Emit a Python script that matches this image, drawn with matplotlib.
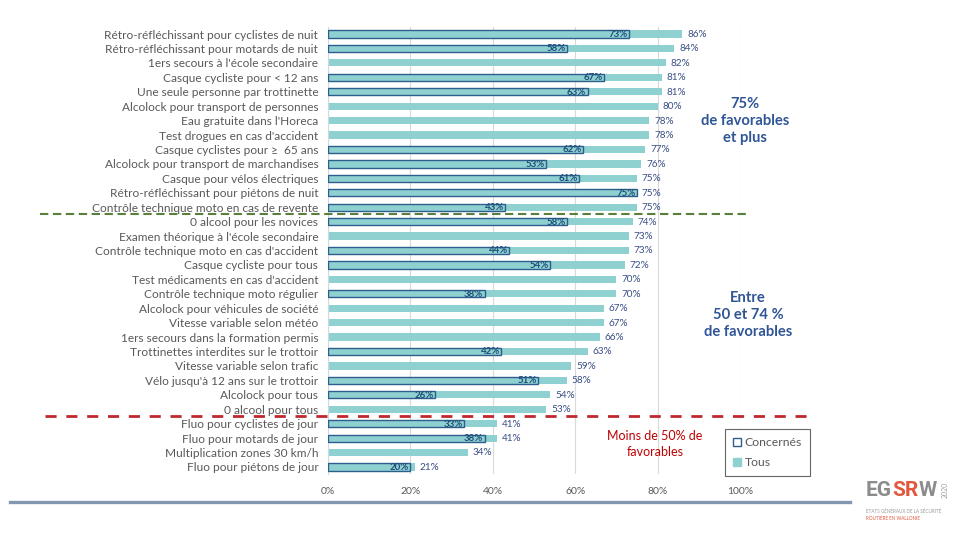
import matplotlib
matplotlib.use("Agg")
import matplotlib.pyplot as plt
from matplotlib.patches import Patch
from matplotlib.font_manager import FontProperties
import numpy as np

categories = [
    "Rétro-réfléchissant pour cyclistes de nuit",
    "Rétro-réfléchissant pour motards de nuit",
    "1ers secours à l'école secondaire",
    "Casque cycliste pour < 12 ans",
    "Une seule personne par trottinette",
    "Alcolock pour transport de personnes",
    "Eau gratuite dans l'Horeca",
    "Test drogues en cas d'accident",
    "Casque cyclistes pour ≥  65 ans",
    "Alcolock pour transport de marchandises",
    "Casque pour vélos électriques",
    "Rétro-réfléchissant pour piétons de nuit",
    "Contrôle technique moto en cas de revente",
    "0 alcool pour les novices",
    "Examen théorique à l'école secondaire",
    "Contrôle technique moto en cas d'accident",
    "Casque cycliste pour tous",
    "Test médicaments en cas d'accident",
    "Contrôle technique moto régulier",
    "Alcolock pour véhicules de société",
    "Vitesse variable selon météo",
    "1ers secours dans la formation permis",
    "Trottinettes interdites sur le trottoir",
    "Vitesse variable selon trafic",
    "Vélo jusqu'à 12 ans sur le trottoir",
    "Alcolock pour tous",
    "0 alcool pour tous",
    "Fluo pour cyclistes de jour",
    "Fluo pour motards de jour",
    "Multiplication zones 30 km/h",
    "Fluo pour piétons de jour",
]
tous = [86, 84, 82, 81, 81, 80, 78, 78, 77, 76, 75, 75, 75,
        74, 73, 73, 72, 70, 70, 67, 67, 66, 63, 59, 58, 54, 53,
        41, 41, 34, 21]
concernes = [73, 58, None, 67, 63, None, None, None, 62, 53, 61, 75, 43,
             58, None, 44, 54, None, 38, None, None, None, 42, None, 51, 26, None,
             33, 38, None, 20]
xticks = [0, 20, 40, 60, 80, 100]
xtick_labels = ["0%", "20%", "40%", "60%", "80%", "100%"]

TEAL = "#8FD0D0"
EDGE = "#2E5E8E"
LABEL_GRAY = "#595959"
VAL_BLUE = "#3B4E86"
TXT_BLUE = "#2F5597"

plt.rcParams['font.family'] = ['Lato', 'DejaVu Sans']

fig = plt.figure(figsize=(9.6, 5.4), dpi=100)
ax = fig.add_axes([328/960, 1-474.2/540, 412/960, (474.2-26.8)/540])

y = np.arange(len(categories))
bh = 0.5
ax.barh(y, [v/100 for v in tous], height=bh, color=TEAL, zorder=2)
for i, c in enumerate(concernes):
    if c is not None:
        ax.barh(i, c/100, height=bh, color=TEAL, edgecolor=EDGE, linewidth=1.0, zorder=3)
        ax.text(c/100 - 0.003, i + 0.03, f"{c}%", ha='right', va='center',
                fontsize=7, fontweight='bold', color="#1F4E79", zorder=4)
for i, t in enumerate(tous):
    ax.text(t/100 + 0.012, i + 0.03, f"{t}%", ha='left', va='center',
            fontsize=7.2, color=VAL_BLUE, zorder=4)

ax.set_ylim(len(categories) - 0.5, -0.5)
ax.set_xlim(0, 1.0)
ax.set_yticks(y)
ax.set_yticklabels(categories, fontsize=8.6, color=LABEL_GRAY)
ax.set_xticks([v/100 for v in xticks])
ax.set_xticklabels(xtick_labels, fontsize=7.5, color=LABEL_GRAY)
ax.tick_params(axis='both', length=0)
ax.tick_params(axis='y', pad=7)
ax.tick_params(axis='x', pad=9)
for s in ['top', 'right', 'bottom']:
    ax.spines[s].set_visible(False)
ax.spines['left'].set_color("#C8DCE8")
ax.spines['left'].set_linewidth(0.8)
ax.spines['left'].set_linestyle((0, (1, 1)))
ax.grid(axis='x', color="#D9D9D9", linewidth=0.8, zorder=0)
ax.set_axisbelow(True)

# threshold separators
n_high = sum(1 for t in tous if t >= 75)
n_mid = sum(1 for t in tous if t >= 50)
ax.plot([-0.699, 1.024], [n_high - 0.5, n_high - 0.5], color="#5A7F3A",
        linewidth=1.5, dashes=(4, 2.2), clip_on=False, zorder=5)
ax.plot([-0.687, 1.170], [n_mid - 0.5, n_mid - 0.5], color="#C0282D",
        linewidth=2.0, dashes=(4, 3.5), clip_on=False, zorder=5)

# annotations
fig.text(745/960, 1-121/540, "75%\nde favorables\net plus", ha='center', va='center',
         fontsize=10.6, fontweight='bold', color=TXT_BLUE, linespacing=1.3)
fig.text(748/960, 1-315/540, "Entre\n50 et 74 %\nde favorables", ha='center', va='center',
         fontsize=10.6, fontweight='bold', color=TXT_BLUE, linespacing=1.3)
fig.text(655/960, 1-444/540, "Moins de 50% de\nfavorables", ha='center', va='center',
         fontsize=9, color="#C00000", linespacing=1.4)

# legend
handles = [Patch(facecolor='white', edgecolor=EDGE, linewidth=1.0, label="Concernés"),
           Patch(facecolor=TEAL, edgecolor=TEAL, label="Tous")]
leg = fig.legend(handles=handles, loc='upper left', bbox_to_anchor=(725/960, 1-429/540),
                 fontsize=8.8, frameon=True, fancybox=False, handlelength=0.65,
                 handleheight=0.65, handletextpad=0.3, labelspacing=0.75,
                 borderpad=0.65, borderaxespad=0)
leg.get_frame().set_edgecolor("#404040")
leg.get_frame().set_linewidth(0.8)
for t in leg.get_texts():
    t.set_color(LABEL_GRAY)

# bottom rule
fig.add_artist(plt.Line2D([10/960, 850/960], [1-502/540, 1-502/540],
                          color="#8497B0", linewidth=2.4, transform=fig.transFigure))

# logo: chained pieces, each placed right after the previous one's box
logo_parts = [("EG", "#8C8C8C"), ("SR", "#E2583E"), ("W", "#8C8C8C")]
fp = FontProperties(family='Roboto', weight='bold', size=15)
renderer = fig.canvas.get_renderer()
xpix, ly = 866.0, 1-490/540
for txt, col in logo_parts:
    t = fig.text(xpix/960, ly, txt, fontproperties=fp, color=col,
                 ha='left', va='center')
    bb = t.get_window_extent(renderer)
    xpix = bb.x1
fig.text(945/960, ly, "2020", fontsize=5, color="#A0A0A0", rotation=90,
         ha='center', va='center')
fig.text(866/960, 1-511/540, "ETATS GÉNÉRAUX DE LA SÉCURITÉ", fontsize=3.3,
         color="#9A9A9A", ha='left', va='center')
fig.text(866/960, 1-518/540, "ROUTIÈRE EN WALLONIE", fontsize=3.3,
         color="#E2583E", ha='left', va='center')

fig.savefig("out.png", dpi=100)
